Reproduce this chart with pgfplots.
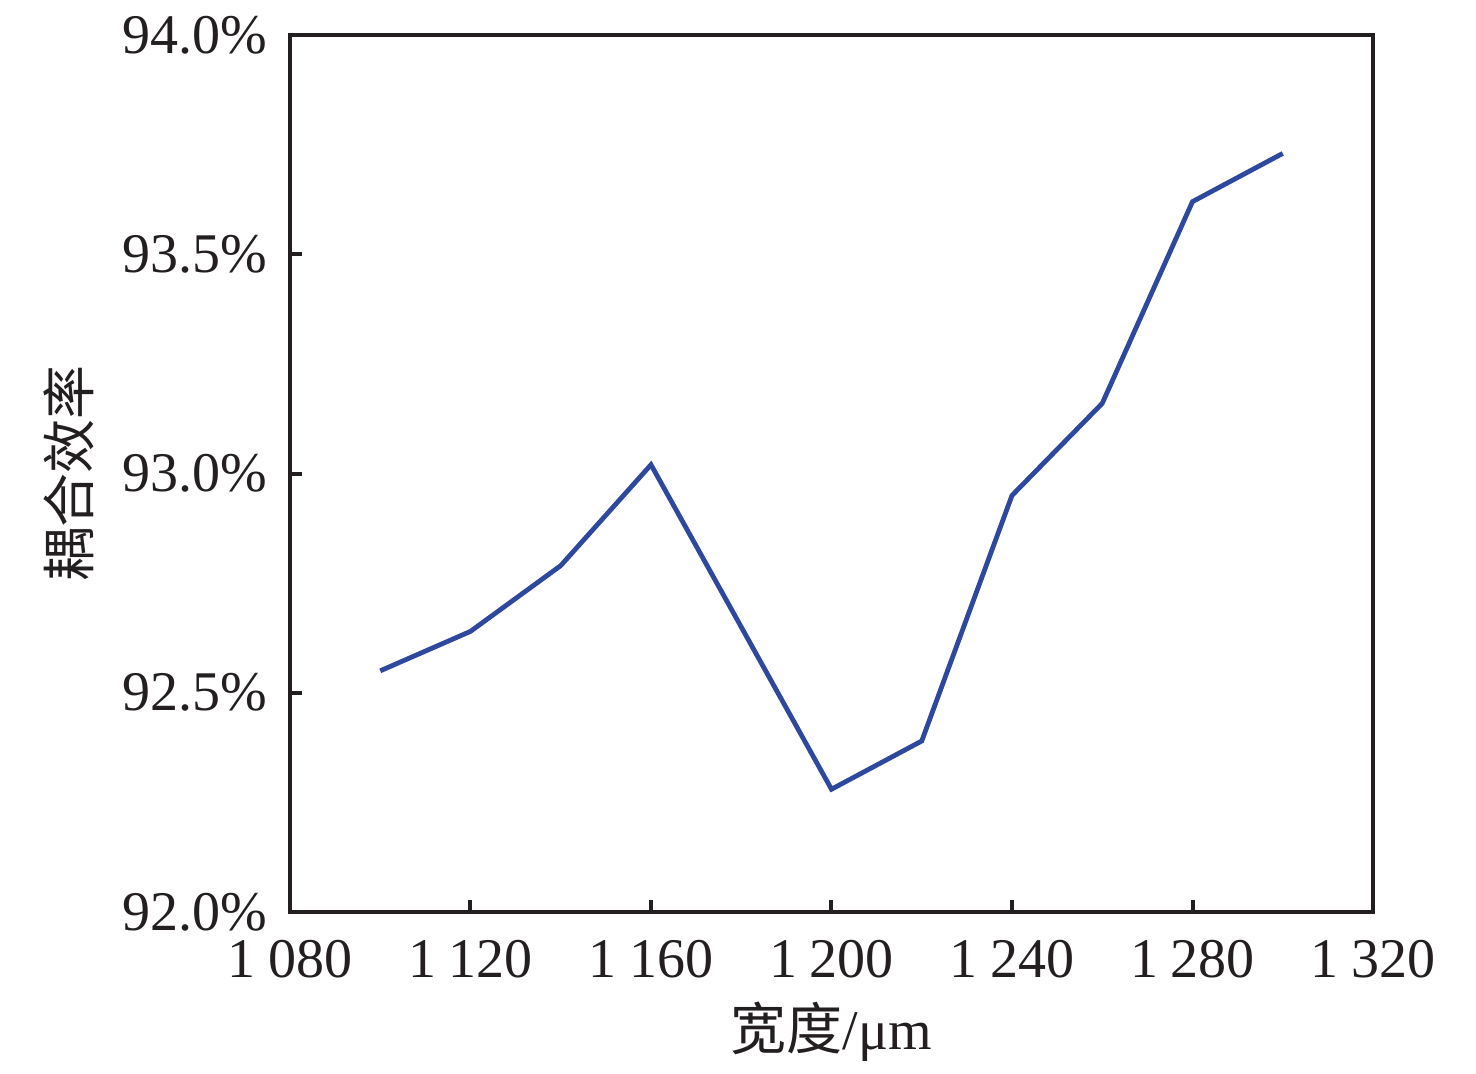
\documentclass[border=0pt]{standalone}
\usepackage{fontspec}
\setmainfont{Liberation Serif}
\newfontfamily\cjk{Noto Sans CJK SC}
\usepackage{pgfplots}
\pgfplotsset{compat=1.18}
\usetikzlibrary{calc}
\definecolor{axisgray}{HTML}{231F20}
\definecolor{lineblue}{RGB}{46,72,158}
\newcommand{\ts}{\hspace{0.22em}}
\begin{document}
\begin{tikzpicture}
\begin{axis}[
  name=ax,
  scale only axis,
  width=270.75pt, height=219.25pt,
  xmin=1080, xmax=1320, ymin=92.0, ymax=94.0,
  xtick={1080,1120,1160,1200,1240,1280,1320},
  xticklabels={1\ts080,1\ts120,1\ts160,1\ts200,1\ts240,1\ts280,1\ts320},
  ytick={92.0,92.5,93.0,93.5,94.0},
  yticklabels={92.0\%,92.5\%,93.0\%,93.5\%,94.0\%},
  /pgf/number format/assume math mode=true,
  tick align=inside,
  xtick pos=bottom, ytick pos=left,
  major tick length=3pt,
  axis line style={axisgray, line width=1pt},
  every tick/.style={axisgray, line width=1pt},
  tick label style={font=\fontsize{14}{16}\selectfont, text=axisgray},
  xticklabel style={anchor=north, yshift=-3.5pt},
  yticklabel style={anchor=east, xshift=-2.3pt},
  xlabel={{\cjk 宽度}/μm},
  ylabel={\cjk 耦合效率},
  every axis x label/.style={at={(axis description cs:0.5,-0.137)}, anchor=center, font=\fontsize{14}{16}\selectfont, text=axisgray},
  every axis y label/.style={at={(axis description cs:-0.204,0.5)}, anchor=center, rotate=90, font=\fontsize{13.5}{16}\selectfont, text=axisgray},
]
\addplot[lineblue, line width=1.2pt] coordinates {
  (1100,92.55) (1120,92.64) (1140,92.79) (1160,93.02) (1200,92.28)
  (1220,92.39) (1240,92.95) (1260,93.16) (1280,93.62) (1300,93.73)
};
\end{axis}
\pgfresetboundingbox
\path ($(ax.south west)+(-72.5pt,-40.25pt)$) rectangle ($(ax.north east)+(25.75pt,8.75pt)$);
\end{tikzpicture}
\end{document}
